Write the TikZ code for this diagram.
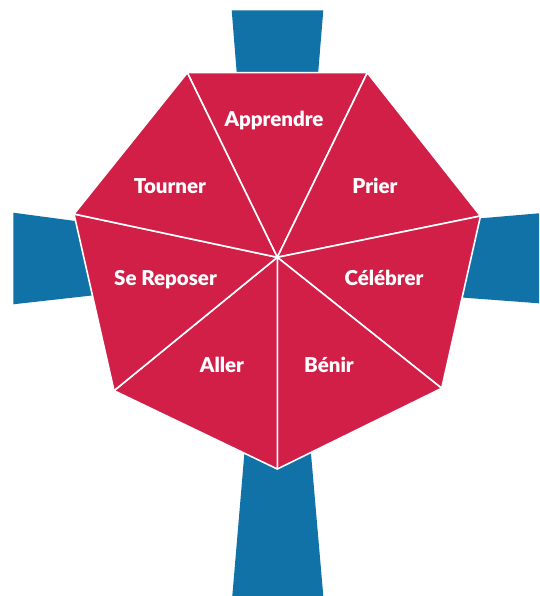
\documentclass[tikz,border=0pt]{standalone}
\usepackage{fontspec}
\setmainfont{Lato}[UprightFont=* Bold]
\definecolor{crossblue}{RGB}{17,114,167}
\definecolor{sectred}{RGB}{210,31,72}
\begin{document}
\begin{tikzpicture}[x=1pt,y=-1pt,
  arm/.style={fill=crossblue,draw=none},
  sector/.style={fill=sectred,draw=white,line width=1.6pt,line join=round},
  lab/.style={text=white,font=\fontsize{20.5}{24}\selectfont\bfseries,inner sep=0pt,anchor=base}]
\useasboundingbox (0,0) rectangle (539,596);
% cross arms
\fill[arm] (231.7,10.3) -- (323.3,10.3) -- (303,257) -- (251.5,257) -- cycle;
\fill[arm] (261,257) -- (294,257) -- (323.3,596) -- (232.3,596) -- cycle;
\fill[arm] (13.3,212.7) -- (277,248) -- (277,274.7) -- (13.3,304.3) -- cycle;
\fill[arm] (539,213.3) -- (539,303.3) -- (277,283.7) -- (277,235.8) -- cycle;
% heptagon
\coordinate (C) at (277.3,257.3);
\coordinate (T1) at (187.3,72.7);
\coordinate (T2) at (367.3,72.7);
\coordinate (R) at (480.5,216);
\coordinate (LR) at (441.7,388.3);
\coordinate (B) at (277.3,469);
\coordinate (LL) at (114,390.7);
\coordinate (L) at (74,214);
\draw[sector] (C) -- (T1) -- (T2) -- cycle;
\draw[sector] (C) -- (T2) -- (R) -- cycle;
\draw[sector] (C) -- (R) -- (LR) -- cycle;
\draw[sector] (C) -- (LR) -- (B) -- cycle;
\draw[sector] (C) -- (B) -- (LL) -- cycle;
\draw[sector] (C) -- (LL) -- (L) -- cycle;
\draw[sector] (C) -- (L) -- (T1) -- cycle;
% labels
\node[lab] (apprendre) at (274,126.7) {Apprendre};
\node[lab] (tourner) at (170,193.3) {Tourner};
\node[lab] (prier) at (375,193.3) {Prier};
\node[lab] (reposer) at (165.5,285) {Se Reposer};
\node[lab] (celebrer) at (384,285) {Célébrer};
\node[lab] (aller) at (222,372.3) {Aller};
\node[lab] (benir) at (329,372.3) {Bénir};
\end{tikzpicture}
\end{document}
